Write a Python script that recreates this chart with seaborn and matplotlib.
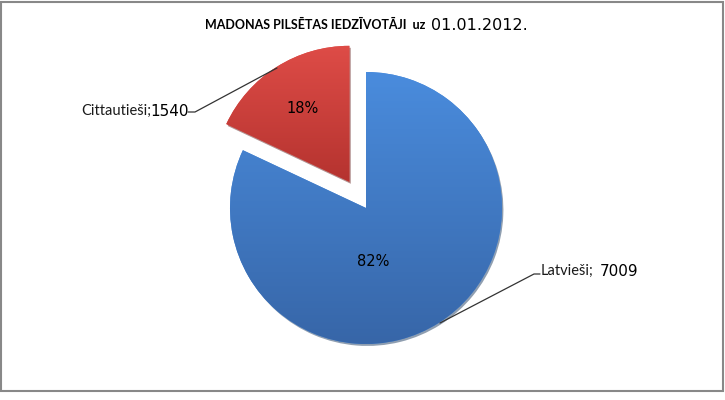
import numpy as np
import matplotlib
matplotlib.use("Agg")
import matplotlib.pyplot as plt
import seaborn as sns
from matplotlib.patches import Rectangle
from matplotlib.colors import LinearSegmentedColormap

# data
groups = ['Latvieši', 'Cittautieši']
counts = [7009, 1540]
title_main = 'MADONAS PILSĒTAS IEDZĪVOTĀJI  uz'
title_date = '01.01.2012.'

# colours: top / bottom of the gradient for each slice
colors_top = ['#4A8CDD', '#DE4C47']
colors_bottom = ['#3766A8', '#B5332F']

sns.set_theme(style='white')
plt.rcParams['font.family'] = ['DejaVu Sans']

NUM_FONT = ['DejaVu Sans']
TXT_FONT = ['Lato', 'DejaVu Sans']

fig = plt.figure(figsize=(7.25, 4.0), dpi=100)
ax = fig.add_axes([0, 0, 1, 1])

# axes data units = pixels (y up)
wedges, texts, pcts = ax.pie(
    counts, explode=[0, 31], startangle=90, counterclock=False,
    center=(366, 192), radius=136, colors=colors_top,
    autopct='%1.0f%%', pctdistance=0.64,
    shadow={'ox': 1.0, 'oy': -1.4, 'shade': 0.55},
    wedgeprops=dict(linewidth=0),
    textprops=dict(fontsize=10.5, color='black', family=NUM_FONT))

# vertical gradient fill clipped to each wedge
grad = np.linspace(0, 1, 256).reshape(-1, 1)
for w, top, bottom in zip(wedges, colors_top, colors_bottom):
    bb = w.get_path().get_extents()
    cmap = LinearSegmentedColormap.from_list('g', [top, bottom])
    im = ax.imshow(grad, extent=[bb.x0, bb.x1, bb.y0, bb.y1], origin='upper',
                   cmap=cmap, aspect='auto', zorder=w.get_zorder() + 0.1)
    im.set_clip_path(w)

# Excel puts the big slice's percentage nearer the middle
pcts[0].set_position((373, 138))
for t in pcts:
    t.set_zorder(5)

# leader lines
ax.plot([440, 534, 540], [77, 126, 126], color='#333333', lw=0.9, zorder=4)
ax.plot([277, 195, 188], [332, 288, 288], color='#333333', lw=0.9, zorder=4)

# data labels
ax.text(541, 129, groups[0] + ';', family=TXT_FONT, fontsize=10.5,
        color='#1a1a1a', ha='left', va='center')
ax.text(600, 129, str(counts[0]), family=NUM_FONT, fontsize=11, color='black',
        ha='left', va='center')
ax.text(81, 289, groups[1] + ';', family=TXT_FONT, fontsize=10.5,
        color='#1a1a1a', ha='left', va='center')
ax.text(150, 289, str(counts[1]), family=NUM_FONT, fontsize=11, color='black',
        ha='left', va='center')

# title
ax.text(205, 375, title_main, family=TXT_FONT, fontsize=9,
        fontweight='bold', color='black', ha='left', va='center')
ax.text(431, 375, title_date, family=NUM_FONT, fontsize=11.5, color='black',
        ha='left', va='center')

# chart border
ax.add_patch(Rectangle((1.5, 9), 721.5, 389.5, fill=False, ec='#888888', lw=1.5,
                       clip_on=False, zorder=6))

ax.set_xlim(0, 725)
ax.set_ylim(0, 400)
ax.set_axis_off()

fig.savefig('out.png', dpi=100)
